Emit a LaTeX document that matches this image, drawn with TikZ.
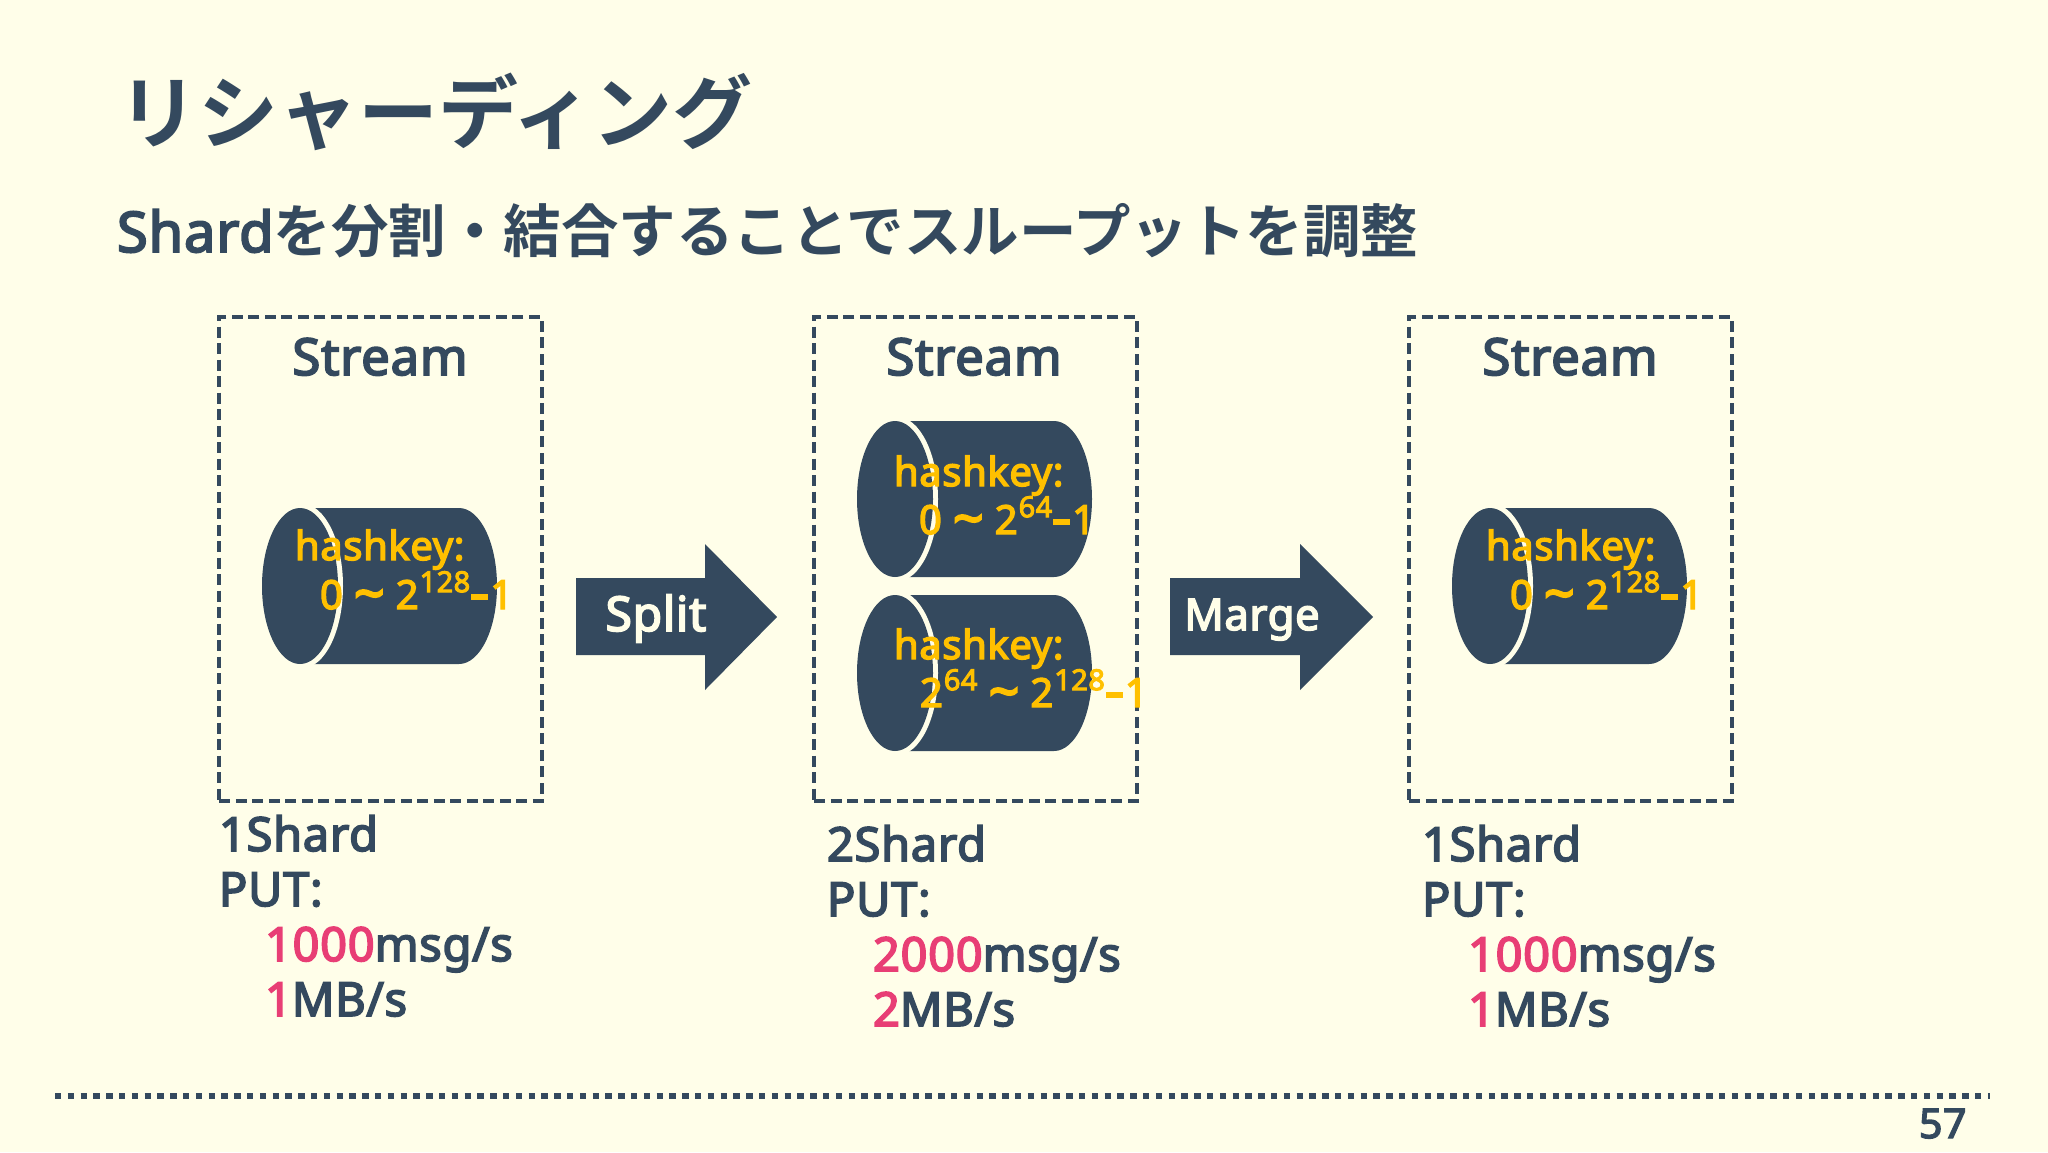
\documentclass[tikz,border=0pt]{standalone}
\usepackage{fontspec}
\setmainfont{Noto Sans}[FakeBold=3.5,LetterSpace=1.5]
\newfontfamily\jp{Noto Sans CJK JP Bold}
\definecolor{bgc}{HTML}{FFFEE9}
\definecolor{ink}{HTML}{34495E}
\definecolor{amber}{HTML}{FFC000}
\definecolor{rose}{HTML}{E83E75}
\newcommand{\fs}[1]{\fontsize{#1pt}{#1pt}\selectfont}
\newcommand{\sq}[1]{\kern1pt\raisebox{0.42em}{\fs{29}#1}}
\newcommand{\tld}{\raisebox{-0.09em}{\fs{54}\textasciitilde}}
\newcommand{\hy}{\kern1pt\rule[0.23em]{17pt}{5.5pt}\kern2pt}
\tikzset{
  x=1pt,y=-1pt,
  txt/.style={inner sep=0pt,outer sep=0pt,anchor=base west,text=ink,font=\fs{47}},
  head/.style={inner sep=0pt,anchor=base,text=ink,font=\fs{51}},
  box/.style={draw=ink,line width=3.8pt,dash pattern=on 11pt off 5.5pt,minimum width=322.5pt,minimum height=484pt,inner sep=0pt},
  hash/.style={inner sep=0pt,outer sep=0pt,anchor=base west,text=amber,font=\fs{40}},
  cyl/.style={fill=ink},
  rim/.style={draw=bgc,line width=10pt},
  arr/.style={fill=ink},
  arrt/.style={inner sep=0pt,anchor=base,text=bgc,font=\fs{46}},
}
% #1 name, #2 left x, #3 top y
\newcommand{\shardcyl}[3]{%
  \fill[cyl] (#2+38,#3) -- (#2+197,#3)
     arc[start angle=-90,end angle=90,x radius=38,y radius=78] -- (#2+38,#3+156) -- cycle;
  \draw[rim] (#2+38,#3+78) ellipse[x radius=38,y radius=78];
  \fill[cyl] (#2+38,#3+78) ellipse[x radius=38,y radius=78];
  \coordinate (#1) at (#2,#3);
}
\begin{document}
\begin{tikzpicture}
\useasboundingbox (0,0) rectangle (2048,1152);
\fill[bgc] (0,0) rectangle (2048,1152);
\node[txt,font=\jp\fs{80}] (title) at (118,142) {リシャーディング};
\node[txt,font=\fs{56}] (sub) at (117,252) {Shard{\jp\fs{57.5}を分割・結合することでスループットを調整}};

\node[box] (b1) at (380.5,559) {};
\node[box] (b2) at (975.5,559) {};
\node[box] (b3) at (1570.5,559) {};
\node[head] (s1) at (380,375) {Stream};
\node[head] (s2) at (974,375) {Stream};
\node[head] (s3) at (1570,375) {Stream};

\shardcyl{c1}{262}{508}
\node[hash] (h1) at (295,560) {hashkey:};
\node[hash] (r1) at (320,609) {0 \tld{} 2\sq{128}\hy 1};

\shardcyl{c2}{857}{421}
\node[hash] (h2) at (894,486) {hashkey:};
\node[hash] (r2) at (919,534) {0 \tld{} 2\sq{64}\hy 1};
\shardcyl{c3}{857}{595}
\node[hash] (h3) at (894,659) {hashkey:};
\node[hash] (r3) at (920,707) {2\sq{64} \tld{} 2\sq{128}\hy 1};

\shardcyl{c4}{1452}{508}
\node[hash] (h4) at (1486,560) {hashkey:};
\node[hash] (r4) at (1510,609) {0 \tld{} 2\sq{128}\hy 1};

\fill[arr] (576,578) -- (705,578) -- (705,544) -- (777,617) -- (705,690) -- (705,655) -- (576,655) -- cycle;
\node[arrt,font=\fs{48}] (split) at (656,631) {Split};
\fill[arr] (1170,578) -- (1300,578) -- (1300,544) -- (1373,617) -- (1300,690) -- (1300,655) -- (1170,655) -- cycle;
\node[arrt,font=\fs{43.5}] (marge) at (1252,630) {Marge};

\node[txt] (a1) at (219,851) {1Shard};
\node[txt] (a2) at (219,906) {PUT:};
\node[txt] (a3) at (265,961) {\textcolor{rose}{1000}msg/s};
\node[txt] (a4) at (265,1016) {\textcolor{rose}{1}MB/s};

\node[txt] (b1t) at (827,861) {2Shard};
\node[txt] (b2t) at (827,916) {PUT:};
\node[txt] (b3t) at (873,971) {\textcolor{rose}{2000}msg/s};
\node[txt] (b4t) at (873,1026) {\textcolor{rose}{2}MB/s};

\node[txt] (d1) at (1422,861) {1Shard};
\node[txt] (d2) at (1422,916) {PUT:};
\node[txt] (d3) at (1468,971) {\textcolor{rose}{1000}msg/s};
\node[txt] (d4) at (1468,1026) {\textcolor{rose}{1}MB/s};

\draw[ink,line width=6pt,dash pattern=on 6.4pt off 6.4pt] (55,1096) -- (1990,1096);
\node[txt,font=\fs{41}] (page) at (1919,1138) {57};
\end{tikzpicture}
\end{document}
